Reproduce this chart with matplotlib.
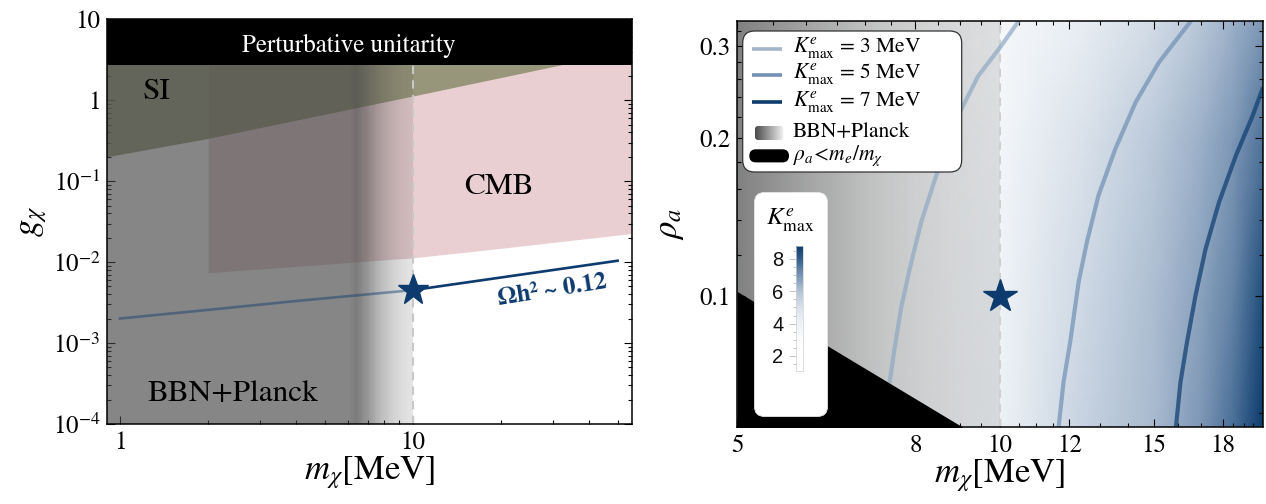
import matplotlib
matplotlib.use('Agg')
import matplotlib.pyplot as plt
import numpy as np
from matplotlib.patches import FancyBboxPatch
from matplotlib.colors import LinearSegmentedColormap, Normalize
from matplotlib.ticker import NullFormatter
import matplotlib.cm as cm

plt.rcParams['font.family'] = 'STIXGeneral'
plt.rcParams['mathtext.fontset'] = 'stix'

NAVY = '#0d3b6e'
PINK = '#e9cfd1'
SI_C = '#7d835d'
BBN_GRAY = (0.27, 0.27, 0.27)

# ---------------- left panel data (m_chi [MeV], g_chi) ----------------
unitarity_g = 2.72
si_m = [0.9, 2.0, 10.0, 31.8, 56.0]
si_g = [0.20, 0.338, 1.127, 2.72, 4.3]
cmb_m = [2.0, 5.0, 10.0, 20.0, 56.0]
cmb_g = [0.0074, 0.0094, 0.0113, 0.0148, 0.0226]
relic_m = [1.0, 2.0, 4.0, 10.0, 20.0, 50.0]
relic_g = [0.00201, 0.00257, 0.00331, 0.00451, 0.00646, 0.0104]
bench_m = 10.0
bench_g = 0.00451
bench_rho = 0.1

# BBN+Planck shading: opacity vs mass
bbn_l_m = [0.9, 6.1, 6.4, 7.0, 7.7, 8.5, 9.3, 10.0]
bbn_l_a = [0.652, 0.652, 0.71, 0.56, 0.374, 0.251, 0.176, 0.139]
bbn_r_m = [5.0, 6.0, 7.0, 8.0, 9.0, 10.0]
bbn_r_a = [0.68, 0.49, 0.34, 0.24, 0.18, 0.14]

# ---------------- right panel data (m_chi [MeV], rho_a) ----------------
k_levels = [3, 5, 7]
k3_m = [7.47, 7.57, 7.70, 7.88, 8.12, 8.45, 8.99, 9.44, 10.0, 10.51]
k3_rho = [0.0684, 0.0795, 0.0948, 0.1129, 0.1384, 0.170, 0.224, 0.263, 0.298, 0.335]
k5_m = [11.67, 11.82, 12.03, 12.30, 12.57, 12.96, 13.55, 14.29, 15.20, 16.55]
k5_rho = [0.0565, 0.0687, 0.0819, 0.1065, 0.1268, 0.1556, 0.191, 0.234, 0.279, 0.335]
k7_m = [15.90, 16.09, 16.37, 16.74, 17.19, 17.81, 18.62, 19.46, 20.0]
k7_rho = [0.0565, 0.0687, 0.0819, 0.1004, 0.1232, 0.1511, 0.1854, 0.2208, 0.250]

shade_m = [5.0, 7.5, 10.0, 12.5, 15.0, 17.0, 18.5, 20.0]
shade_rho = [0.0565, 0.1, 0.2, 0.335]
shade_k = [[1.5, 2.8, 4.0, 5.5, 6.2, 6.9, 7.7, 8.8],
           [1.4, 2.7, 3.9, 5.3, 6.1, 6.7, 7.3, 8.4],
           [1.2, 2.4, 3.6, 5.0, 5.8, 6.4, 6.9, 7.6],
           [1.07, 2.0, 3.4, 4.3, 5.2, 5.9, 6.4, 6.9]]

me_m = [5.0, 9.05]
me_rho = [0.1022, 0.05646]

# ---------------- figure ----------------
fig = plt.figure(figsize=(12.66, 5.04), dpi=100)
W, H = 1266, 504
ax1 = fig.add_axes([107.3 / W, 80 / H, 524.7 / W, 404.7 / H])
ax2 = fig.add_axes([737.2 / W, 77.3 / H, 525.8 / W, 406 / H])

bbn_cmap = LinearSegmentedColormap.from_list('bbn', [BBN_GRAY + (0.0,), BBN_GRAY + (1.0,)])


def bbn_band(ax, nodes_m, nodes_a, y0, y1, z):
    # smooth fade drawn as a flat quad mesh of thin columns
    edges = np.geomspace(nodes_m[0], nodes_m[-1], 260)
    mids = np.sqrt(edges[:-1] * edges[1:])
    alpha = np.interp(np.log(mids), np.log(nodes_m), nodes_a)
    ax.pcolormesh(edges, [y0, y1], alpha[None, :], shading='flat', cmap=bbn_cmap,
                  vmin=0, vmax=1, antialiased=False, lw=0, zorder=z)


# ======================= LEFT PANEL =======================
ax = ax1
ax.set_xscale('log'); ax.set_yscale('log')
ax.fill_between(cmb_m, cmb_g, 10, color=PINK, lw=0, zorder=1)
ax.fill_between(si_m, si_g, 10, color=SI_C, alpha=0.75, lw=0, zorder=2)
bbn_band(ax, bbn_l_m, bbn_l_a, 1e-5, 20, 4)
ax.plot(relic_m[:4], relic_g[:4], color=NAVY, lw=1.9, alpha=0.45, zorder=5)
ax.plot(relic_m[3:], relic_g[3:], color=NAVY, lw=1.9, zorder=5)
ax.axvline(10, color='#c8c8c8', ls=(0, (4, 3)), lw=1.5, zorder=5)
ax.plot([bench_m], [bench_g], marker='*', ms=23, color=NAVY, mec=NAVY, zorder=7)
ax.axhspan(unitarity_g, 10, color='black', lw=0, zorder=6)

ax.set_xlim(0.905, 56); ax.set_ylim(1e-4, 10)

ax.text(0.4606, 0.934, 'Perturbative unitarity', transform=ax.transAxes, color='white',
        ha='center', va='center', fontsize=18, zorder=8)
ax.text(0.093, 0.821, 'SI', transform=ax.transAxes, ha='center', va='center', fontsize=22.5, zorder=8)
ax.text(0.747, 0.586, 'CMB', transform=ax.transAxes, ha='center', va='center', fontsize=22.5, zorder=8)
ax.text(0.2396, 0.074, 'BBN+Planck', transform=ax.transAxes, ha='center', va='center',
        fontsize=22.5, zorder=8)
ax.text(0.849, 0.331, 'Ωh² ~ 0.12', transform=ax.transAxes, ha='center', va='center',
        fontsize=18, fontweight='bold', color=NAVY, rotation=9, zorder=8)

ax.set_xticks([1, 10]); ax.set_xticklabels(['1', '10'])
ax.set_xticks([2, 3, 4, 5, 6, 7, 8, 9, 20, 30, 40, 50], minor=True)
ax.xaxis.set_minor_formatter(NullFormatter())
ydec = [1e-4, 1e-3, 1e-2, 1e-1, 1, 10]
ax.set_yticks(ydec)
ax.set_yticklabels([r'$10^{-4}$', r'$10^{-3}$', r'$10^{-2}$', r'$10^{-1}$', '1', '10'])
ax.set_yticks([k * d for d in ydec[:-1] for k in range(2, 10)], minor=True)
ax.yaxis.set_minor_formatter(NullFormatter())
ax.set_xlabel(r'$m_\chi$[MeV]', fontsize=25)
ax.set_ylabel(r'$g_\chi$', fontsize=25)
ax.xaxis.set_label_coords(0.5, -0.075)
ax.yaxis.set_label_coords(-0.112, 0.5)

# ======================= RIGHT PANEL =======================
ax = ax2
ax.set_xscale('log'); ax.set_yscale('log')
knorm = Normalize(1.07, 8.8)
kstops = [(1.07, '#ffffff'), (3.0, '#fbfcfd'), (4.0, '#eef2f6'), (5.0, '#d9e1ea'),
          (6.0, '#b3c3d6'), (7.0, '#7893b3'), (8.0, '#36608b'), (8.8, '#0b3a6c')]
kcmap = LinearSegmentedColormap.from_list('kmax', [(knorm(v), c) for v, c in kstops])

SM, SR = np.meshgrid(shade_m, shade_rho)
ax.pcolormesh(SM, SR, np.array(shade_k), shading='gouraud', cmap=kcmap, norm=knorm, zorder=0)
bbn_band(ax, bbn_r_m, bbn_r_a, 0.04, 0.4, 1)

line_cols = ['#8fa8c3', '#6f8fb3', NAVY]
for (mm, rr), c in zip([(k3_m, k3_rho), (k5_m, k5_rho), (k7_m, k7_rho)], line_cols):
    ax.plot(mm, rr, color=c, lw=3, alpha=0.7, solid_capstyle='butt', zorder=3)

ax.axvline(10, color='#cfcfcf', ls=(0, (4, 3)), lw=1.5, zorder=2)
ax.fill_between(me_m, me_rho, 0.04, color='black', lw=0, zorder=5)
ax.plot([bench_m], [bench_rho], marker='*', ms=25, color=NAVY, mec=NAVY, zorder=7)

ax.set_xlim(5, 20); ax.set_ylim(0.0565, 0.335)
ax.set_xticks([5, 8, 10, 12, 15, 18]); ax.set_xticklabels(['5', '8', '10', '12', '15', '18'])
ax.set_xticks([5.5, 6, 6.5, 7, 7.5, 8.5, 9, 9.5, 10.5, 11, 11.5, 13, 14, 16, 17,
               18.5, 19, 19.5], minor=True)
ax.xaxis.set_minor_formatter(NullFormatter())
ax.set_yticks([0.1, 0.2, 0.3]); ax.set_yticklabels(['0.1', '0.2', '0.3'])
ax.set_yticks([0.06, 0.08, 0.12, 0.14, 0.16, 0.18, 0.22, 0.24, 0.26, 0.28, 0.32], minor=True)
ax.yaxis.set_minor_formatter(NullFormatter())
ax.set_xlabel(r'$m_\chi$[MeV]', fontsize=25)
ax.set_ylabel(r'$\rho_a$', fontsize=25)
ax.xaxis.set_label_coords(0.5, -0.075)
ax.yaxis.set_label_coords(-0.097, 0.5)

for a in (ax1, ax2):
    a.tick_params(which='both', direction='in', top=True, right=True, labelsize=18, width=0.8)
    a.tick_params(which='major', length=5.5, pad=5)
    a.tick_params(which='minor', length=3)
    for s in a.spines.values():
        s.set_linewidth(1.1)
        s.set_zorder(9)

# ---- legend (drawn by hand, pixel coordinates inside its own axes) ----
lax = fig.add_axes([741.7 / W, (H - 173) / H, 221 / W, 143 / H])
lax.axis('off')
lax.add_patch(FancyBboxPatch((1, 1), 219, 141, boxstyle='round,pad=0,rounding_size=12',
                             fc='white', ec='#333333', lw=0.9, zorder=1))
rows = [19, 45, 72]
leg_cols = ['#a3b6cc', '#7391b4', NAVY]
for y, c, k in zip(rows, leg_cols, k_levels):
    lax.plot([10, 40], [y, y], color=c, lw=2.6, solid_capstyle='butt', zorder=3)
    lax.text(51, y - 1, r'$K_{\mathrm{max}}^{e}$ = %d MeV' % k, ha='left', va='center',
             fontsize=15.5, zorder=3)
grad = FancyBboxPatch((13.3, 96), 28.3, 14, boxstyle='round,pad=0,rounding_size=3',
                      fc='none', ec='none', zorder=2)
lax.add_patch(grad)
im = lax.imshow(np.linspace(0, 1, 64)[None, :], extent=[13.3, 41.6, 110, 96], aspect='auto',
                cmap=LinearSegmentedColormap.from_list('g', ['#4a4a4a', '#f4f4f4']), zorder=3)
im.set_clip_path(grad)
lax.text(51, 102, 'BBN+Planck', ha='left', va='center', fontsize=15.5, zorder=3)
lax.add_patch(FancyBboxPatch((8.3, 120), 38.3, 11.7, boxstyle='round,pad=0,rounding_size=5.8',
                             fc='black', ec='black', zorder=3))
lax.text(51, 126, r'$\rho_a\!<\!m_e/m_\chi$', ha='left', va='center', fontsize=15.5, zorder=3)
lax.set_xlim(0, 221); lax.set_ylim(143, 0)

# ---- colorbar in a white rounded box ----
bax = fig.add_axes([754 / W, (H - 417) / H, 74 / W, 225 / H])
bax.axis('off')
bax.add_patch(FancyBboxPatch((0.5, 0.5), 73, 224, boxstyle='round,pad=0,rounding_size=10',
                             fc='white', ec='#e6e6e6', lw=0.6))
bax.text(36, 28, r'$K_{\mathrm{max}}^{e}$', ha='center', va='center', fontsize=18)
bax.set_xlim(0, 74); bax.set_ylim(225, 0)

cax = fig.add_axes([796 / W, (H - 371) / H, 7.3 / W, 125 / H])
cb = fig.colorbar(cm.ScalarMappable(norm=knorm, cmap=kcmap), cax=cax)
cb.set_ticks([2, 4, 6, 8])
cb.outline.set_edgecolor('#d0d0d0'); cb.outline.set_linewidth(0.5)
cax.yaxis.set_ticks_position('left')
cax.set_yticks(np.arange(1.5, 8.6, 0.5), minor=True)
cax.tick_params(which='both', colors='#b8b8b8', labelcolor='#111111', width=0.6)
cax.tick_params(which='major', length=5, pad=4)
cax.tick_params(which='minor', length=2.5)
for t in cax.get_yticklabels():
    t.set_family('Liberation Sans'); t.set_fontsize(14.5)

fig.savefig('out.png', dpi=100)
